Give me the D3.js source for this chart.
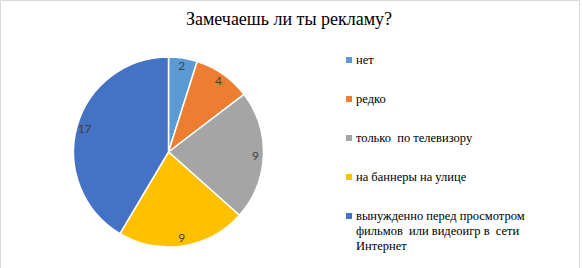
<!DOCTYPE html>
<html>
<head>
<meta charset="utf-8">
<script src="https://cdn.jsdelivr.net/npm/d3@7"></script>
<style>
  body { margin: 0; background: #fff; }
</style>
</head>
<body>
<div id="chart"></div>
<script>
// Data
var categories = ["нет", "редко", "только  по телевизору", "на баннеры на улице",
                  "вынужденно перед просмотром фильмов  или видеоигр в сети Интернет"];
var values = [2, 4, 9, 9, 17];
var colors = ["#5B9BD5", "#ED7D31", "#A5A5A5", "#FFC000", "#4472C4"];
// legend text broken in lines like the original
var legendLines = [["нет"], ["редко"], ["только  по телевизору"], ["на баннеры на улице"],
                   ["вынужденно перед просмотром", "фильмов  или видеоигр в  сети", "Интернет"]];

var width = 582;
var height = 268;

const svg = d3.select("#chart")
    .append("svg")
    .attr("width", width)
    .attr("height", height);

// Chart border (bottom is cut off)
svg.append("path")
    .attr("d", "M0.5," + height + "V0.5H579.5V" + height)
    .attr("fill", "none")
    .attr("stroke", "#d9d9d9");

// Title
svg.append("text")
    .attr("x", 289)
    .attr("y", 25)
    .attr("text-anchor", "middle")
    .attr("style", "font-family:'Liberation Serif';font-size:18px")
    .attr("fill", "#000")
    .text("Замечаешь ли ты рекламу?");

// Pie
var cx = 168.5, cy = 152, radius = 95;
var pie = d3.pie().sort(null).value(d => d);
var arcs = pie(values);
var arc = d3.arc().innerRadius(0).outerRadius(radius);
var labelArc = d3.arc().innerRadius(87).outerRadius(87);

const g = svg.append("g")
    .attr("transform", `translate(${cx},${cy})`);

g.selectAll("path")
    .data(arcs)
    .join("path")
    .attr("d", arc)
    .attr("fill", (d, i) => colors[i])
    .attr("stroke", "#fff")
    .attr("stroke-width", 1.5);

g.selectAll("text")
    .data(arcs)
    .join("text")
    .attr("transform", d => `translate(${labelArc.centroid(d)})`)
    .attr("text-anchor", "middle")
    .attr("dy", "0.35em")
    .attr("style", "font-family:Lato;font-size:12px")
    .attr("fill", "#404040")
    .text(d => d.data);

// Legend
var legendY = [60, 99, 138, 177, 216];
const legend = svg.append("g")
    .selectAll("g")
    .data(categories)
    .join("g")
    .attr("transform", (d, i) => `translate(346,${legendY[i]})`);

legend.append("rect")
    .attr("x", 0)
    .attr("y", -3)
    .attr("width", 6)
    .attr("height", 6)
    .attr("fill", (d, i) => colors[i]);

legend.append("text")
    .attr("style", "font-family:'Liberation Serif';font-size:12.5px;white-space:pre")
    .attr("fill", "#000")
    .selectAll("tspan")
    .data((d, i) => legendLines[i])
    .join("tspan")
    .attr("x", 10)
    .attr("y", (d, j) => j * 15)
    .attr("dy", "0.35em")
    .text(d => d);
</script>
</body>
</html>
